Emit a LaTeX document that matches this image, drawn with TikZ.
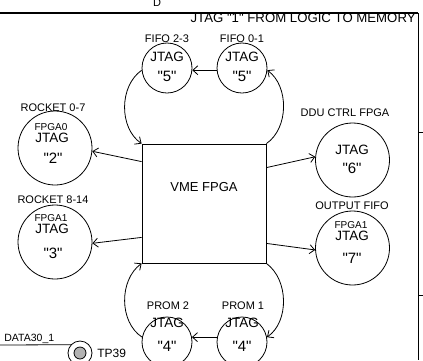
\documentclass[tikz,border=0pt]{standalone}
\usepackage{fontspec}
\setmainfont{Liberation Sans}[Ligatures=TeXOff]
\usetikzlibrary{arrows.meta,calc}
\tikzset{
  lbl/.style={inner sep=0pt,font=\fontsize{11}{13}\selectfont},
  jt/.style={inner sep=0pt,font=\fontsize{13.5}{15}\selectfont},
  num/.style={inner sep=0pt,font=\fontsize{15}{17}\selectfont},
  fp/.style={inner sep=0pt,font=\fontsize{10}{12}\selectfont},
  smallc/.style={draw,circle,minimum size=50pt,inner sep=0pt},
  bigc/.style={draw,circle,minimum size=74pt,inner sep=0pt},
  arr/.style={-{Straight Barb[length=5pt,width=9pt]}},
}
\begin{document}
\begin{tikzpicture}[x=1pt,y=-1pt,line width=0.8pt]
\useasboundingbox (0,0) rectangle (423,360);
% frame
\coordinate (f1) at (0,13);
\coordinate (f2) at (418,13);
\coordinate (f3) at (418,360);
\draw[line width=1.3pt] (f1) -- (f2);
\draw (f2) -- (f3);
\coordinate (t1a) at (418,132); \coordinate (t1b) at (423,132);
\coordinate (t2a) at (418,295); \coordinate (t2b) at (423,295);
\draw (t1a) -- (t1b);
\draw (t2a) -- (t2b);
\node[lbl] (dlab) at (157,2.5) {D};
\node[inner sep=0pt,anchor=east,font=\fontsize{13.2}{15}\selectfont] (title) at (416,18) {JTAG "1" FROM LOGIC TO MEMORY};

% VME
\node[draw,minimum width=124pt,minimum height=119pt,inner sep=0pt] (vme) at (204,203.5) {};
\node[inner sep=0pt,font=\fontsize{13}{15}\selectfont] (vmet) at (204,187) {VME FPGA};

% small circles
\node[smallc] (fifo23) at (167,68) {};
\node[smallc] (fifo01) at (242,68) {};
\node[smallc] (prom2) at (167,342) {};
\node[smallc] (prom1) at (242,342) {};
\node[lbl] (fifo23l) at (167,39) {FIFO 2-3};
\node[lbl] (fifo01l) at (242,39) {FIFO 0-1};
\node[jt] (fifo23j) at (167,57) {JTAG};
\node[jt] (fifo01j) at (242,57) {JTAG};
\node[num] (fifo23n) at (167,76) {"5"};
\node[num] (fifo01n) at (242,76) {"5"};
\node[lbl] (prom2l) at (168,306) {PROM 2};
\node[lbl] (prom1l) at (243,306) {PROM 1};
\node[jt] (prom2j) at (167,323) {JTAG};
\node[jt] (prom1j) at (242,323) {JTAG};
\node[num] (prom2n) at (167,346) {"4"};
\node[num] (prom1n) at (242,346) {"4"};

% big circles
\node[bigc] (r07) at (55,148) {};
\node[bigc] (r814) at (55,242) {};
\node[bigc] (ddu) at (352.5,160) {};
\node[bigc] (ofifo) at (352.5,248) {};
\node[lbl] (r07l) at (53,108) {ROCKET 0-7};
\node[fp] (r07f) at (51,127) {FPGA0};
\node[jt] (r07j) at (52,137.5) {JTAG};
\node[num] (r07n) at (53,158) {"2"};
\node[lbl] (r814l) at (53,200) {ROCKET 8-14};
\node[fp] (r814f) at (51,218) {FPGA1};
\node[jt] (r814j) at (52,228.5) {JTAG};
\node[num] (r814n) at (53,253) {"3"};
\node[lbl] (ddul) at (345,113) {DDU CTRL FPGA};
\node[jt] (dduj) at (352,150) {JTAG};
\node[num] (ddun) at (352,168) {"6"};
\node[lbl] (ofifol) at (352,206) {OUTPUT FIFO};
\node[fp] (ofifof) at (351,225) {FPGA1};
\node[jt] (ofifoj) at (352,235.5) {JTAG};
\node[num] (ofifon) at (352,258) {"7"};

% straight arrows
\draw[arr] ($(vme.north west)+(0,18)$) -- (r07.-5);
\draw[arr] ($(vme.south west)+(0,-26)$) -- (r814.-2);
\draw[arr] ($(vme.north east)+(0,24)$) -- (ddu.175);
\draw[arr] ($(vme.south east)+(0,-20)$) -- (ofifo.183);
\draw[arr] (fifo01.185) -- (fifo23.-5);
\draw[arr] (prom1.169) -- (prom2.11);

% loops
\draw[arr] (vme.north east) .. controls (289,128) and (289,86) .. (fifo01.-5);
\draw[arr] (fifo23.185) .. controls (119,86) and (119,128) .. (vme.north west);
\draw[arr] (vme.south east) .. controls (289,280) and (289,322) .. (prom1.11);
\draw[arr] (prom2.169) .. controls (119,322) and (119,280) .. (vme.south west);

% test point
\node[draw,circle,minimum size=24pt,inner sep=0pt] (tp) at (80,353) {};
\node[draw,circle,minimum size=12pt,inner sep=0pt,fill=gray!60] (tpin) at (80,353) {};
\coordinate (dstart) at (0,345);
\draw (dstart) -- (tp.138);
\node[inner sep=0pt,anchor=south west,font=\fontsize{10.5}{12}\selectfont] (datal) at (4,343.5) {DATA30\_1};
\node[inner sep=0pt,anchor=west,font=\fontsize{12}{14}\selectfont] (tpl) at (97,353) {TP39};
\end{tikzpicture}
\end{document}
